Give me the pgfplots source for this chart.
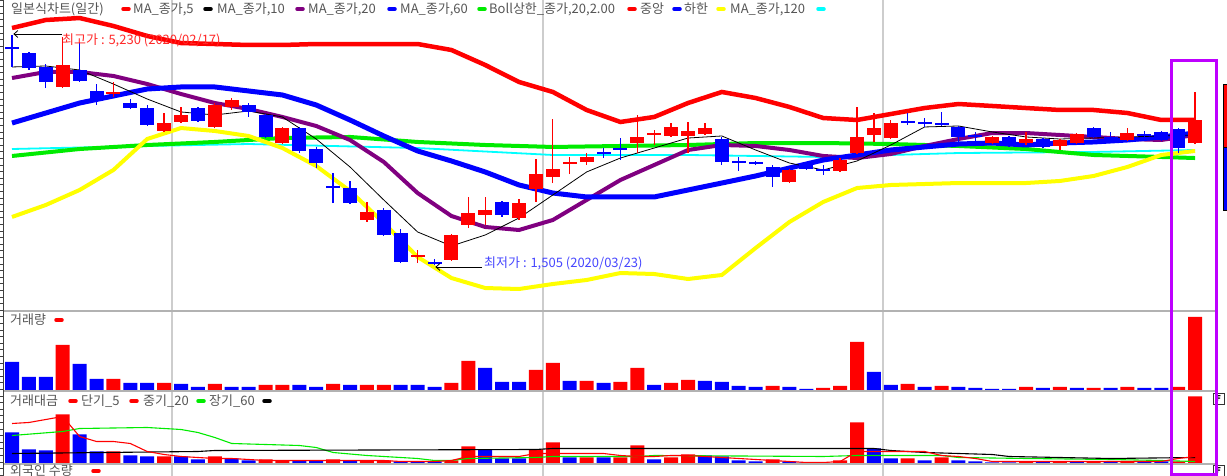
\documentclass[border=0pt]{standalone}
\usepackage{fontspec}
\setmainfont{Noto Sans CJK KR}
\usepackage{pgfplots}
\usepackage{pgfplotstable}
\pgfplotsset{compat=1.18}
\usetikzlibrary{arrows.meta}
\definecolor{hred}{RGB}{255,0,0}
\definecolor{hblue}{RGB}{0,0,255}
\definecolor{hpurple}{RGB}{128,0,128}
\definecolor{hgreen}{RGB}{0,235,0}
\definecolor{hyellow}{RGB}{255,255,0}
\definecolor{hcyan}{RGB}{0,255,255}
\definecolor{txtgray}{RGB}{85,85,85}
\definecolor{sepgray}{RGB}{178,178,178}
\definecolor{gridgray}{RGB}{205,205,205}
\definecolor{boxviolet}{RGB}{190,0,255}
\definecolor{annred}{RGB}{255,40,40}
\definecolor{annblue}{RGB}{70,70,255}

% red (rising) candles: index, open, high, low, close
\pgfplotstableread{
i o h l c
3 4391 5201 4374 4747
6 4277 4472 4229 4310
9 3678 3969 3662 3807
10 3824 4067 3807 3937
12 3743 4131 3726 4099
13 4067 4212 4018 4180
16 3483 3743 3467 3726
21 2236 2528 2204 2366
24 1637 1750 1539 1669
26 1588 2009 1572 1993
27 2155 2609 2106 2349
28 2317 2609 2155 2398
30 2268 2576 2236 2511
31 2738 3224 2528 2981
32 2933 3872 2835 3062
33 3143 3257 2981 3176
34 3176 3321 3127 3257
37 3483 3937 3321 3581
38 3613 3694 3451 3645
39 3597 3807 3581 3743
40 3597 3824 3321 3678
41 3629 3807 3613 3726
46 2852 3062 2835 3046
49 3030 3240 3014 3208
50 3321 4067 3305 3581
51 3613 3969 3500 3726
52 3564 3856 3548 3807
58 3483 3597 3467 3581
60 3483 3662 3451 3548
62 3435 3548 3370 3532
63 3483 3645 3467 3629
66 3532 3726 3516 3645
70 3483 4310 3467 3856
}\upc
% blue (falling) candles
\pgfplotstableread{
i o h l c
0 5039 5230 4715 5006
1 4941 4958 4666 4698
2 4715 4763 4374 4472
4 4666 5120 4472 4488
5 4326 4439 4099 4196
7 4131 4196 4034 4050
8 4050 4099 3759 3775
11 4050 4067 3824 3840
14 4099 4131 3905 3986
15 3937 3953 3564 3581
17 3726 3743 3321 3354
18 3386 3419 3078 3159
19 2787 2997 2511 2754
20 2754 2868 2495 2511
22 2398 2430 1977 1993
23 2025 2090 1539 1556
25 1556 1604 1505 1523
29 2528 2544 2285 2317
35 3338 3402 3240 3305
36 3402 3564 3208 3370
42 3548 3581 3127 3176
43 3192 3257 3030 3159
44 3176 3192 3127 3143
45 3095 3127 2771 2933
47 3143 3159 3046 3062
48 3062 3127 2965 3030
53 3840 3969 3775 3807
54 3824 3888 3743 3791
55 3807 3986 3759 3775
56 3743 3759 3500 3581
57 3613 3662 3500 3581
59 3581 3597 3419 3435
61 3548 3564 3402 3419
64 3726 3743 3564 3581
65 3581 3662 3500 3548
67 3629 3678 3516 3597
68 3662 3678 3516 3532
69 3710 3726 3321 3402
}\dnc

\pgfplotsset{
  panel/.style={scale only axis, width=1227pt, xmin=-0.7101, xmax=71.893, hide axis, clip=true},
  wick/.style={mark=none, draw=none, forget plot, error bars/.cd, y dir=plus, y explicit, error mark=none, error bar style={line width=1.3pt, draw=#1}},
  body/.style={mark=none, draw=none, forget plot, error bars/.cd, y dir=plus, y explicit, error mark=none, error bar style={line width=14pt, draw=#1}},
  vbar/.style={ybar, bar width=14pt, bar shift=0pt, fill=#1, draw=none, forget plot},
}
\newcommand\lt{\fontsize{13}{15}\selectfont}

\begin{document}
\begin{tikzpicture}[x=1pt,y=1pt]
\useasboundingbox (0,0) rectangle (1227,476);
\clip (0,0) rectangle (1227,476);
\foreach \gx in {172,543,883} \draw[gridgray, line width=1.3pt] (\gx,0) -- (\gx,476);

% ---------------- price panel
\begin{axis}[panel, at={(0pt,165pt)}, anchor=south west, height=311pt, ymin=761.8, ymax=5800]
% Bollinger upper
\addplot[hred, line width=4.5pt, forget plot] coordinates {(0,5346)(2,5476)(4,5508)(6,5379)(8,5217)(10,5103)(12,5087)(14,5071)(16,5071)(18,5087)(20,5087)(22,5087)(24,5087)(26,4990)(28,4747)(30,4472)(32,4310)(34,4018)(36,3824)(38,3905)(40,4131)(42,4310)(44,4212)(46,4067)(48,3888)(50,3856)(52,3953)(54,4050)(56,4115)(58,4083)(60,4050)(62,4018)(64,4018)(66,3969)(68,3856)(70,3856)};
% MA 120 (cyan)
\addplot[hcyan, line width=1.8pt, forget plot] coordinates {(0,3386)(8,3435)(14,3467)(24,3402)(32,3289)(40,3289)(48,3257)(56,3321)(64,3338)(70,3370)};
% MA 60 (green)
\addplot[hgreen, line width=4pt, forget plot] coordinates {(0,3273)(4,3386)(8,3451)(12,3500)(16,3564)(20,3581)(24,3500)(28,3451)(32,3419)(36,3435)(40,3451)(44,3483)(48,3483)(52,3467)(56,3435)(60,3386)(64,3289)(68,3257)(70,3240)};
% Bollinger lower (yellow)
\addplot[hyellow, line width=4pt, forget plot] coordinates {(0,2285)(2,2479)(4,2722)(6,3046)(8,3548)(10,3726)(12,3678)(14,3597)(16,3402)(18,3111)(20,2706)(22,2187)(24,1637)(26,1296)(28,1134)(30,1118)(32,1199)(34,1264)(36,1377)(38,1361)(40,1280)(42,1345)(44,1782)(46,2204)(48,2528)(50,2754)(52,2803)(54,2819)(56,2835)(58,2835)(60,2835)(62,2868)(64,2949)(66,3095)(68,3289)(70,3354)};
% MA 10 (purple)
\addplot[hpurple, line width=4pt, forget plot] coordinates {(0,4536)(2,4634)(4,4634)(6,4569)(8,4439)(10,4277)(12,4131)(14,4034)(16,3905)(18,3759)(20,3532)(22,3176)(24,2673)(26,2301)(28,2123)(30,2074)(32,2236)(34,2560)(36,2884)(38,3127)(40,3370)(42,3451)(44,3435)(46,3370)(48,3273)(50,3240)(52,3305)(54,3435)(56,3548)(58,3645)(60,3645)(62,3613)(64,3581)(66,3548)(68,3532)(70,3613)};
% Bollinger middle (blue)
\addplot[hblue, line width=5pt, forget plot] coordinates {(0,3807)(2,3969)(4,4131)(6,4245)(8,4358)(10,4391)(12,4391)(14,4326)(16,4261)(18,4099)(20,3856)(22,3597)(24,3354)(26,3192)(28,3014)(30,2803)(32,2673)(34,2609)(36,2609)(38,2609)(40,2722)(42,2835)(44,2949)(46,3078)(48,3208)(50,3289)(52,3370)(54,3419)(56,3467)(58,3483)(60,3451)(62,3483)(64,3500)(66,3532)(68,3581)(70,3645)};
% MA 5 (black)
\addplot[black, line width=0.8pt, forget plot] coordinates {(0,4715)(2,4731)(4,4666)(6,4439)(8,4196)(10,3986)(12,3937)(14,4002)(16,3905)(18,3548)(20,3095)(22,2560)(24,2042)(26,1815)(28,1993)(30,2268)(32,2641)(34,3014)(36,3240)(38,3402)(40,3564)(42,3597)(44,3370)(46,3159)(48,3046)(50,3192)(52,3451)(54,3743)(56,3759)(58,3662)(60,3581)(62,3548)(64,3564)(66,3581)(68,3597)(70,3613)};
% candles
\addplot[wick=hred] table[x=i, y=l, y error plus expr={\thisrow{h}-\thisrow{l}}] {\upc};
\addplot[body=hred] table[x=i, y=o, y error plus expr={\thisrow{c}-\thisrow{o}}] {\upc};
\addplot[wick=hblue] table[x=i, y=l, y error plus expr={\thisrow{h}-\thisrow{l}}] {\dnc};
\addplot[body=hblue] table[x=i, y=c, y error plus expr={\thisrow{o}-\thisrow{c}}] {\dnc};
% annotations
\draw[black, line width=0.8pt, -{Straight Barb[length=4pt,width=7pt]}] (axis cs:2.96,5249) -- (axis cs:0.08,5249);
\node[anchor=west, inner sep=0pt, text=annred, font=\lt] at (axis cs:2.96,5152) {최고가 : 5,230 (2020/02/17)};
\draw[black, line width=0.8pt, -{Straight Barb[length=4pt,width=7pt]}] (axis cs:27.81,1475) -- (axis cs:25.05,1475);
\node[anchor=west, inner sep=0pt, text=annblue, font=\lt] at (axis cs:27.93,1539) {최저가 : 1,505 (2020/03/23)};
\end{axis}

% ---------------- volume panel
\begin{axis}[panel, at={(0pt,86pt)}, anchor=south west, height=78pt, ymin=0, ymax=78]
\addplot[vbar=hred] coordinates {(3,45)(6,11)(9,7)(12,6)(15,5)(16,5)(19,6)(21,5)(22,5)(26,7)(27,29)(31,20)(32,27)(34,9)(36,8)(37,22)(39,7)(40,10)(45,4)(48,2)(49,4)(50,48)(53,6)(55,4)(60,3)(62,3)(64,2)(66,3)(69,3)(70,73)};
\addplot[vbar=hblue] coordinates {(0,28)(1,13)(2,13)(4,26)(5,11)(7,7)(8,7)(10,6)(11,3)(13,3)(14,3)(17,5)(18,3)(20,5)(23,5)(24,5)(25,3)(28,22)(29,8)(30,8)(33,9)(35,7)(38,5)(41,9)(42,8)(43,4)(44,3)(46,3)(47,1)(51,18)(52,5)(54,3)(56,3)(57,2)(58,1)(59,1)(61,2)(63,2)(65,2)(67,2)(68,2)};
\end{axis}

% ---------------- trading value panel
\begin{axis}[panel, at={(0pt,12.5pt)}, anchor=south west, height=71.5pt, ymin=0, ymax=71.5]
\addplot[vbar=hred] coordinates {(3,49)(6,12)(9,7)(12,7)(15,4)(16,3)(19,4)(21,3)(22,3)(26,3)(27,17)(31,14)(32,21)(34,6)(36,6)(37,18)(39,6)(40,9)(45,4)(48,1)(49,3)(50,41)(53,5)(55,6)(60,2)(62,2)(64,2)(66,2)(69,2)(70,67)};
\addplot[vbar=hblue] coordinates {(0,31)(1,14)(2,13)(4,29)(5,12)(7,8)(8,7)(10,7)(11,4)(13,5)(14,3)(17,3)(18,3)(20,3)(23,2)(24,2)(25,2)(28,14)(29,5)(30,5)(33,6)(35,6)(38,4)(41,8)(42,7)(43,3)(44,2)(46,2)(47,1)(51,15)(52,5)(54,3)(56,3)(57,2)(58,1)(59,1)(61,2)(63,2)(65,2)(67,2)(68,2)};
\addplot[hgreen, line width=1.1pt, forget plot] coordinates {(0,28)(3,32)(4,35)(8,36)(9,35)(10,34)(11,31)(12,26)(13,20)(17,18)(18,16)(19,11)(21,8)(23,6)(24,5)(25,3)(26,3)(27,5)(31,6)(32,7)(37,7)(38,8)(48,7)(50,8)(55,8)(56,6)(60,5)(65,4)(68,3)(70,2)};
\addplot[black, line width=1.1pt, forget plot] coordinates {(0,10)(11,12)(12,13)(31,14)(32,15)(51,15)(52,13)(54,11)(58,9)(59,7)(62,6)(65,5)(70,6)};
\addplot[hred, line width=1.1pt, forget plot] coordinates {(0,40)(1,41)(2,44)(3,47)(4,27)(5,22)(6,22)(7,20)(8,12)(9,9)(10,7)(11,6)(12,5)(13,5)(14,4)(15,3)(22,3)(23,2)(25,2)(26,3)(27,7)(30,7)(31,10)(35,10)(36,8)(37,7)(38,7)(39,8)(40,8)(41,7)(42,6)(43,5)(44,4)(45,3)(46,2)(47,1)(48,1)(49,2)(50,12)(54,12)(55,8)(56,7)(57,5)(58,2)(68,2)(69,5)(70,7)};
\end{axis}

% panel separators and left ruler
\foreach \sy in {164.5,85,11.5} \draw[sepgray, line width=2pt] (4,\sy) -- (1218,\sy);
\draw[black!75, line width=0.9pt] (3.5,0) -- (3.5,476);
\foreach \k in {0,...,72} \draw[black!75, line width=0.6pt] (0,{476-6.6*\k}) -- (3.5,{476-6.6*\k});

% legend of the price panel
\begin{scope}[every node/.style={anchor=west, inner sep=0pt, text=txtgray, font=\lt}]
\node at (11,467) {일본식차트(일간)};
\draw[hred, line width=3.5pt, line cap=round] (123,467) -- (129,467);
\node at (133,467) {MA\_종가,5};
\draw[black, line width=3.5pt, line cap=round] (205,467) -- (211,467);
\node at (217,467) {MA\_종가,10};
\draw[hpurple, line width=3.5pt, line cap=round] (297,467) -- (303,467);
\node at (308,467) {MA\_종가,20};
\draw[hblue, line width=3.5pt, line cap=round] (389,467) -- (395,467);
\node at (400,467) {MA\_종가,60};
\draw[hgreen, line width=3.5pt, line cap=round] (479,467) -- (485,467);
\node at (489,467) {Boll상한\_종가,20,2.00};
\draw[hred, line width=3.5pt, line cap=round] (629,467) -- (635,467);
\node at (640,467) {중앙};
\draw[hblue, line width=3.5pt, line cap=round] (674,467) -- (680,467);
\node at (684,467) {하한};
\draw[hyellow, line width=3.5pt, line cap=round] (718,467) -- (724,467);
\node at (730,467) {MA\_종가,120};
\draw[hcyan, line width=3.5pt, line cap=round] (818,467) -- (824,467);
% volume legend
\node at (10,156) {거래량};
\draw[hred, line width=3.5pt, line cap=round] (56,156) -- (62,156);
% trading value legend
\node at (10,75) {거래대금};
\draw[hred, line width=3.5pt, line cap=round] (70,75) -- (76,75);
\node at (81,75) {단기\_5};
\draw[hred, line width=3.5pt, line cap=round] (131,75) -- (137,75);
\node at (143,75) {중기\_20};
\draw[hgreen, line width=3.5pt, line cap=round] (198,75) -- (204,75);
\node at (209,75) {장기\_60};
\draw[black, line width=3.5pt, line cap=round] (264,75) -- (270,75);
% foreign holdings panel (cut off at the bottom, as in the source)
\node at (10,5) {외국인 수량};
\draw[hred, line width=3.5pt, line cap=round] (93,5) -- (99,5);
\end{scope}

% right side widgets
\draw[black, line width=0.6pt, fill=hred] (1223.5,329) rectangle (1228,392);
\draw[black, line width=0.6pt, fill=hblue] (1223.5,266) rectangle (1228,329);
\foreach \fy in {72,0} {
  \draw[black!80, line width=0.8pt, fill=white] (1213,\fy) rectangle (1224,\fy+11);
  \node[inner sep=0pt, font=\fontsize{8}{8}\selectfont\bfseries] at (1218.5,\fy+5.5) {F};
}
% highlight box
\draw[boxviolet, line width=3pt] (1171.5,1.5) rectangle (1216.5,415.5);
\end{tikzpicture}
\end{document}
